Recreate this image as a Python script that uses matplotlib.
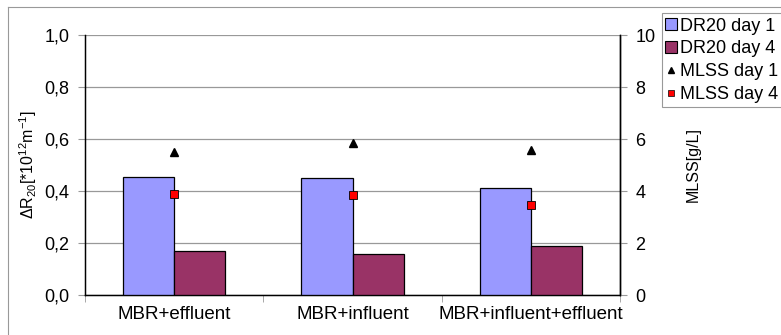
import numpy as np
import matplotlib
matplotlib.use("Agg")
import matplotlib.pyplot as plt
from matplotlib.lines import Line2D

plt.rcParams['font.family'] = ['Liberation Sans', 'DejaVu Sans']

# --- Data ---
groups = ['MBR+effluent', 'MBR+influent', 'MBR+influent+effluent']
dr20_day1 = [0.455, 0.450, 0.410]
dr20_day4 = [0.170, 0.158, 0.188]
mlss_day1 = [5.51, 5.83, 5.58]
mlss_day4 = [3.88, 3.83, 3.46]

c_day1 = '#9999FF'
c_day4 = '#993366'

W, H = 781, 335
fig = plt.figure(figsize=(W / 100, H / 100), dpi=100)
ax = fig.add_axes([85 / W, 40 / H, 535 / W, 260 / H])

x = np.arange(len(groups))
bw = 0.286
ax.bar(x - bw / 2, dr20_day1, bw, color=c_day1, edgecolor='black', lw=0.9, zorder=3)
ax.bar(x + bw / 2, dr20_day4, bw, color=c_day4, edgecolor='black', lw=0.9, zorder=3)

ax.set_xlim(-0.5, 2.5)
ax.set_ylim(0, 1.0)
ax.set_yticks(np.arange(0, 1.01, 0.2))
ax.set_yticklabels([f'{v:.1f}'.replace('.', ',') for v in np.arange(0, 1.01, 0.2)])
ax.set_xticks(x)
ax.set_xticklabels(groups)
ax.set_xticks(np.arange(-0.5, 2.6, 1), minor=True)
ax.tick_params(axis='x', which='major', length=0, labelsize=13.5, pad=8)
ax.tick_params(axis='x', which='minor', length=5, color='#999999', direction='out')
ax.tick_params(axis='y', length=5, color='#999999', labelsize=13, pad=6)
ax.yaxis.grid(True, color='#999999', lw=0.9, zorder=0)
ax.set_axisbelow(True)
ax.spines['top'].set_visible(False)
for s in ['left', 'bottom', 'right']:
    ax.spines[s].set_linewidth(1.0)
ax.set_ylabel(r'$\mathregular{\Delta R_{20}[*10^{12}m^{-1}]}$', fontsize=11.5, labelpad=4)

# MLSS on the secondary axis
ax2 = ax.twinx()
ax2.set_ylim(0, 10)
ax2.set_yticks(np.arange(0, 11, 2))
ax2.tick_params(axis='y', length=5, color='#999999', labelsize=13, pad=6)
ax2.spines['top'].set_visible(False)
ax2.spines['right'].set_linewidth(1.0)
ax2.plot(x, mlss_day1, ls='none', marker='^', ms=6, color='black', zorder=5)
ax2.plot(x, mlss_day4, ls='none', marker='s', ms=6, mfc='#FF0000', mec='black', mew=0.6, zorder=5)
ax2.set_ylabel('MLSS[g/L]', fontsize=11.5, labelpad=22)

# Legend
handles = [
    Line2D([], [], ls='none', marker='s', ms=8, mfc=c_day1, mec='black', mew=0.8),
    Line2D([], [], ls='none', marker='s', ms=8, mfc=c_day4, mec='black', mew=0.8),
    Line2D([], [], ls='none', marker='^', ms=5, color='black'),
    Line2D([], [], ls='none', marker='s', ms=5, mfc='#FF0000', mec='black', mew=0.5),
]
labels = ['DR20 day 1', 'DR20 day 4', 'MLSS day 1', 'MLSS day 4']
leg = fig.legend(handles, labels, loc='upper left', bbox_to_anchor=(662 / W, 1 - 13 / H),
                 fontsize=13, frameon=True, fancybox=False, handlelength=0.5,
                 handletextpad=0.25, borderpad=0.25, borderaxespad=0,
                 labelspacing=0.32)
leg.get_frame().set_edgecolor('#808080')
leg.get_frame().set_linewidth(0.8)

# Outer chart frame
fig.add_artist(Line2D([8 / W, 8 / W], [0, 1 - 7 / H], color='#999999', lw=0.8))
fig.add_artist(Line2D([8 / W, 1], [1 - 7 / H, 1 - 7 / H], color='#999999', lw=0.8))

fig.savefig('out.png', dpi=100)
